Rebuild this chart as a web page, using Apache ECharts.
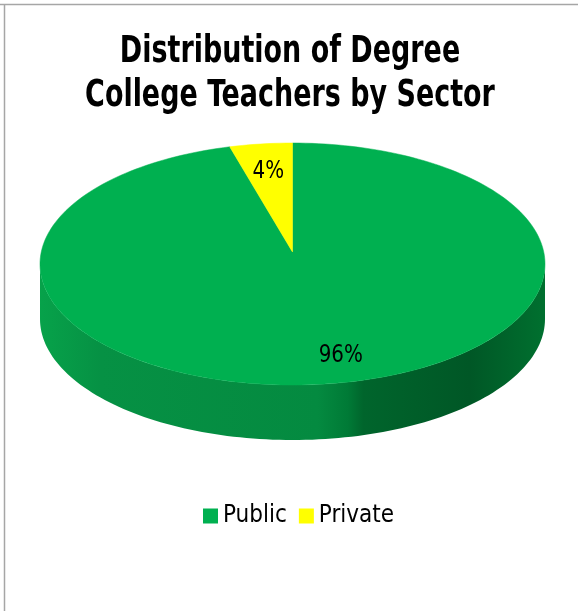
<!DOCTYPE html>
<html><head><meta charset="utf-8">
<script src="https://cdn.jsdelivr.net/npm/echarts@6/dist/echarts.min.js"></script>
<style>html,body{margin:0;padding:0;background:#fff}#c{width:578px;height:611px}</style>
</head><body><div id="c"></div>
<script>
// ---- data ----
const categories = ['Public', 'Private'];
const values = [96, 4];
const percentLabels = ['96%', '4%'];
const sliceColors = ['#00B050', '#FFFF00'];
const titleLines = ['Distribution of Degree', 'College Teachers by Sector'];

// ---- geometry / style config ----
const NARROW = "'Liberation Sans Narrow','DejaVu Sans Condensed','Arial Narrow',sans-serif";
const geo = { cx: 292.5, cy: 264, rx: 252.5, ry: 121, depth: 55, apexY: 252 };
const labelRadius = 0.765;
const labelShift = [[24, 0], [0, 0]];

const total = values.reduce((a, b) => a + b, 0);
const starts = [];
let acc = 0;
values.forEach(v => { starts.push(acc / total * 360); acc += v; });

function pt(deg, dy) {
  const r = deg * Math.PI / 180;
  return [geo.cx + geo.rx * Math.sin(r), geo.cy - geo.ry * Math.cos(r) + (dy || 0)];
}
function arcPts(a0, a1, dy) {
  const n = Math.max(2, Math.ceil(Math.abs(a1 - a0) / 1.5));
  const out = [];
  for (let i = 0; i <= n; i++) out.push(pt(a0 + (a1 - a0) * i / n, dy));
  return out;
}

const sideGradient = new echarts.graphic.LinearGradient(40, 0, 545, 0, [
  { offset: 0, color: '#07a24a' },
  { offset: 0.12, color: '#069144' },
  { offset: 0.55, color: '#048a40' },
  { offset: 0.61, color: '#007a36' },
  { offset: 0.64, color: '#00652c' },
  { offset: 0.85, color: '#005726' },
  { offset: 1, color: '#00702f' }
], true);

function renderSlice(params, api) {
  const i = params.seriesIndex;
  const v = api.value(0);
  const s = starts[i];
  const e = s + v / total * 360;
  const children = [];
  const a0 = Math.max(s, 90), a1 = Math.min(e, 270);
  if (a1 > a0) {
    const top = arcPts(a0, a1, 0);
    const bot = arcPts(a0, a1, geo.depth).reverse();
    children.push({ type: 'polygon', shape: { points: top.concat(bot) }, style: { fill: sideGradient } });
  }
  const face = [[geo.cx, geo.apexY]].concat(arcPts(s, e, 0));
  children.push({ type: 'polygon', shape: { points: face }, style: { fill: sliceColors[i], stroke: sliceColors[i], lineWidth: 0.5 } });
  const mid = (s + e) / 2 * Math.PI / 180;
  const lx = geo.cx + geo.rx * labelRadius * Math.sin(mid) + labelShift[i][0];
  const ly = geo.cy - geo.ry * labelRadius * Math.cos(mid) + labelShift[i][1];
  children.push({ type: 'text', z2: 10, scaleX: 0.92, x: lx, y: ly, style: { text: percentLabels[i], x: 0, y: 0, fill: '#000', font: "24px " + NARROW, align: 'center', verticalAlign: 'middle' } });
  return { type: 'group', children };
}

const chart = echarts.init(document.getElementById('c'));
chart.setOption({
  animation: false,
  legend: {
    data: categories, top: 499, left: 198, icon: 'rect', itemWidth: 15, itemHeight: 15, itemGap: 12,
    textStyle: { fontFamily: NARROW, fontSize: 24, color: '#000' }
  },
  graphic: [
    { type: 'line', shape: { x1: 0, y1: 4.5, x2: 578, y2: 4.5 }, style: { stroke: '#a6a6a6', lineWidth: 1.5 } },
    { type: 'line', shape: { x1: 4.5, y1: 4, x2: 4.5, y2: 611 }, style: { stroke: '#a6a6a6', lineWidth: 1.5 } },
    { type: 'text', x: 290, y: 30, scaleX: 0.81,
      style: { text: titleLines.join('\n'), font: "bold 37px " + NARROW, align: 'center', verticalAlign: 'top', lineHeight: 44, fill: '#000' } }
  ],
  series: categories.map((name, i) => ({
    type: 'custom', name, coordinateSystem: 'none',
    itemStyle: { color: sliceColors[i] },
    renderItem: renderSlice,
    data: [[values[i]]]
  }))
});
</script></body></html>
